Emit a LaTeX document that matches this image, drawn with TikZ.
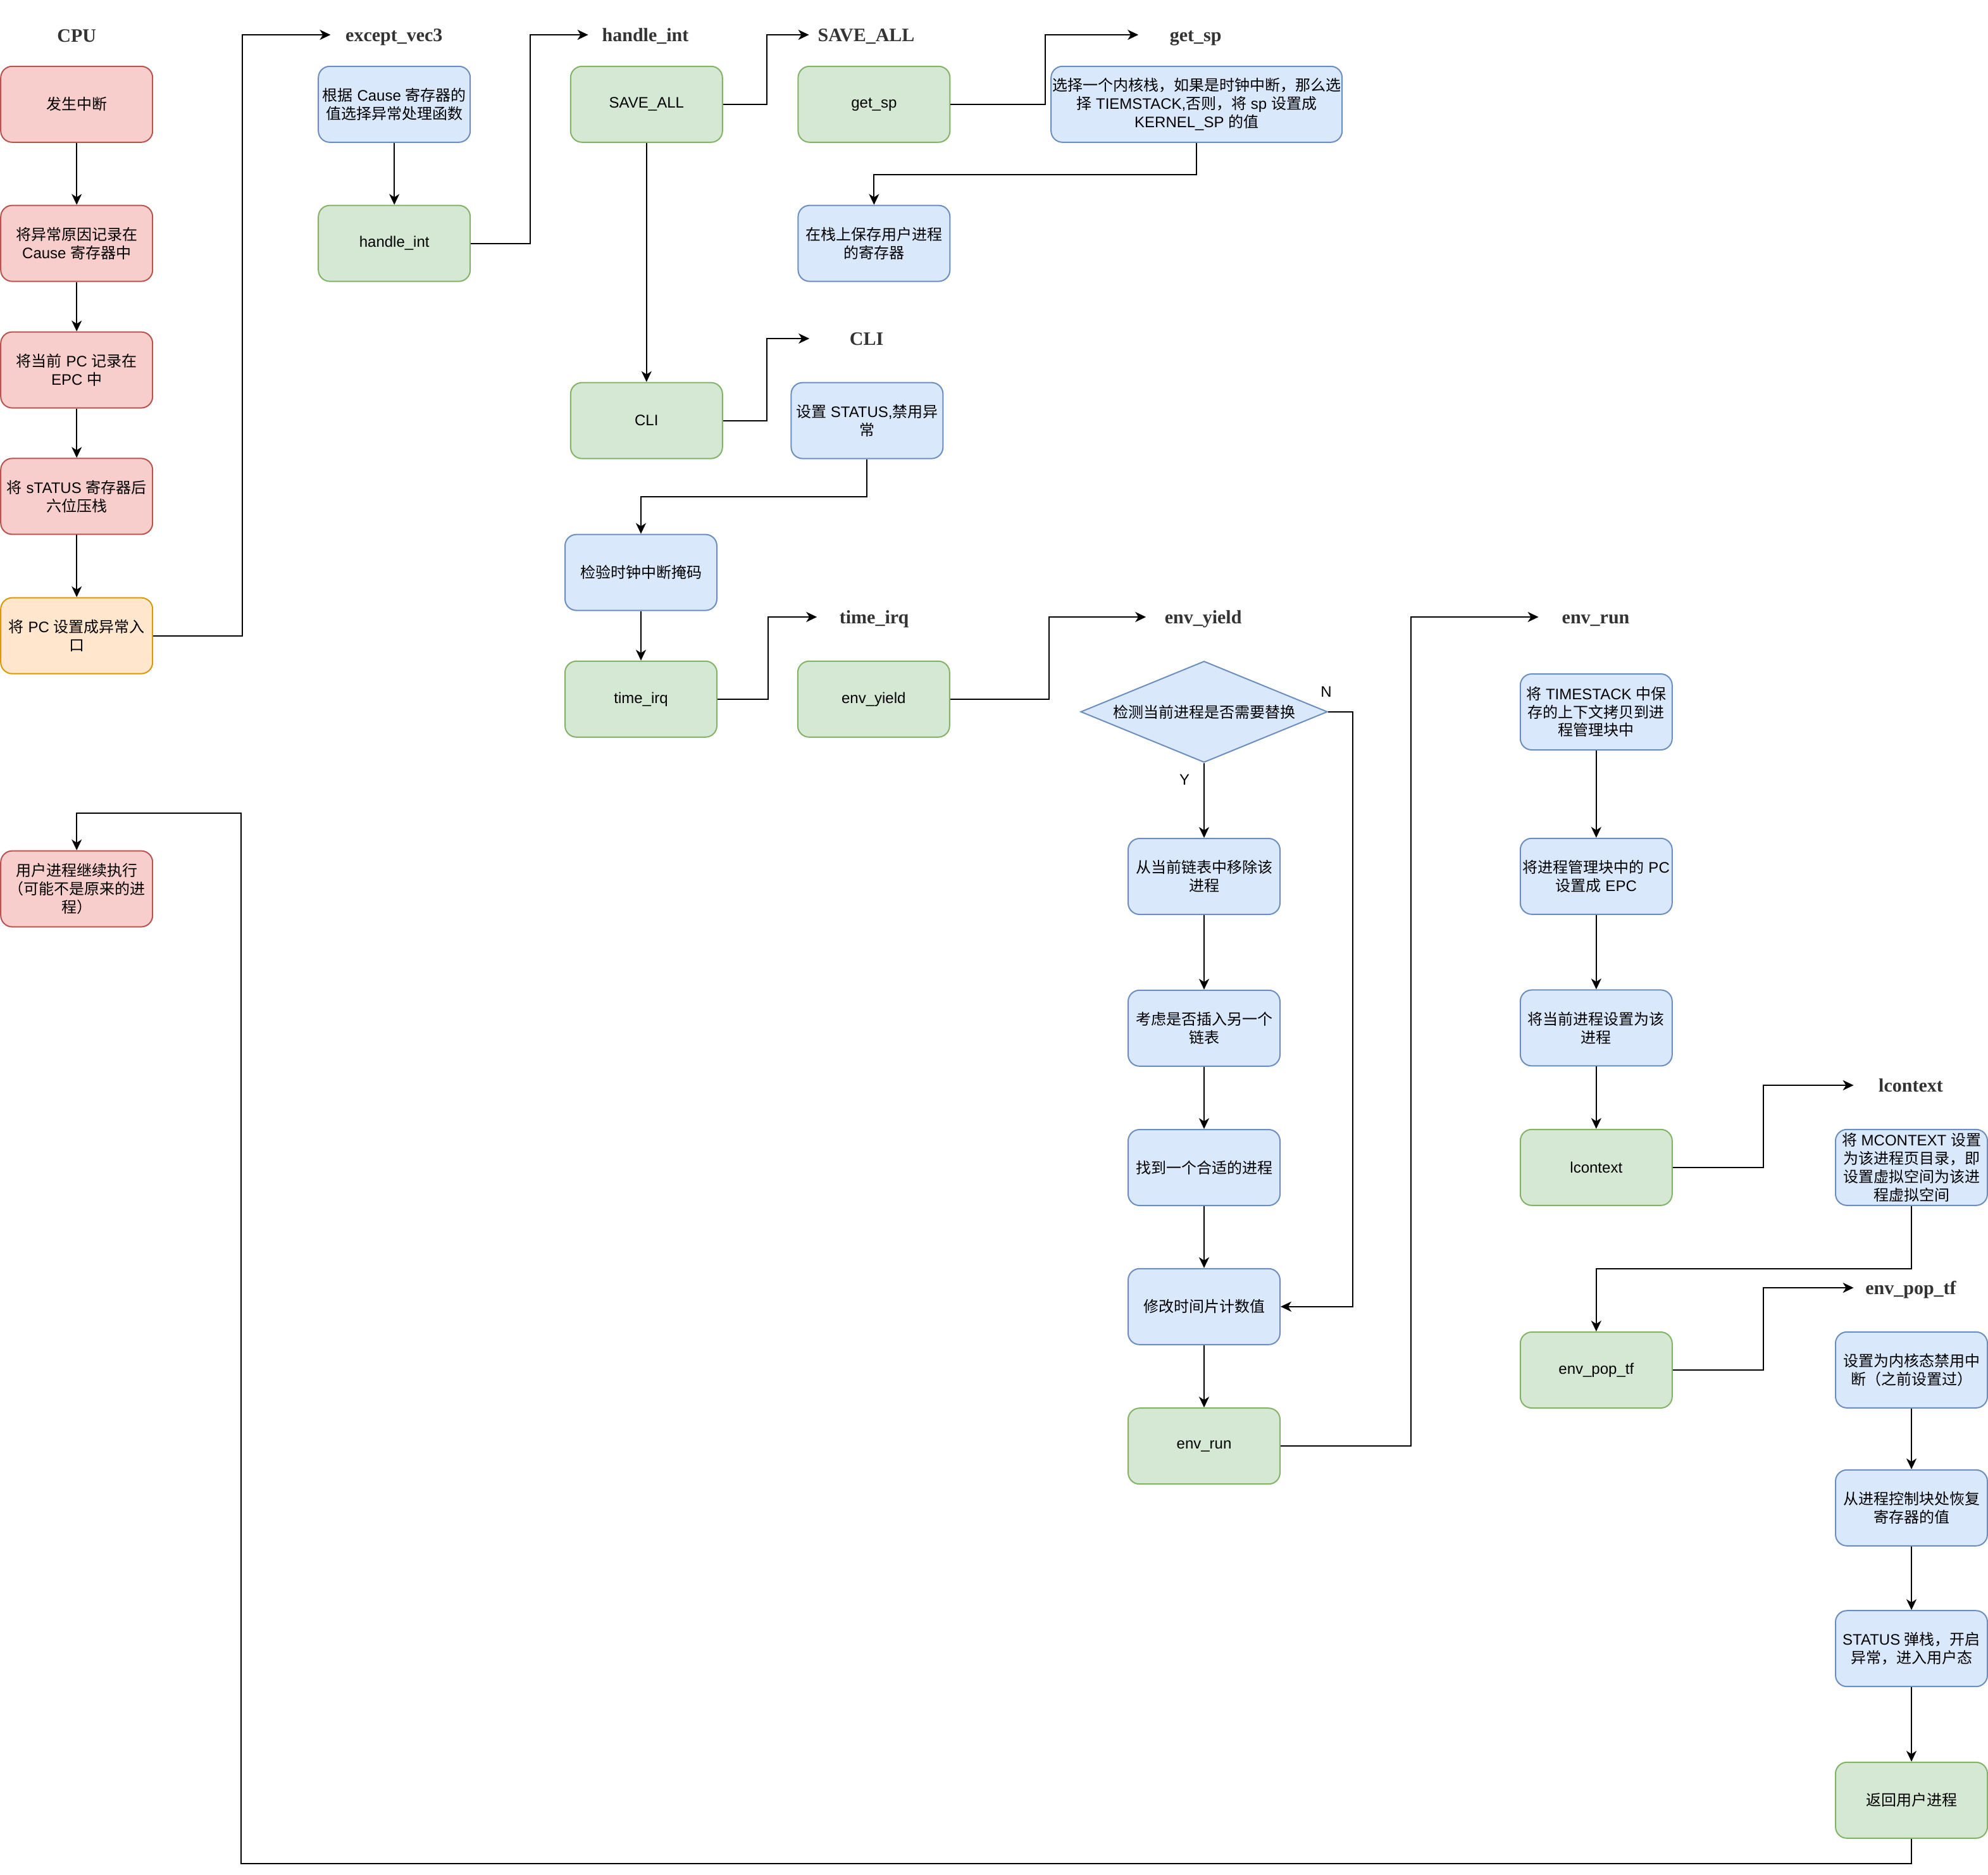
\documentclass[tikz,border=0pt]{standalone}
\usepackage{fontspec}
\setmainfont{Liberation Sans}
\newfontfamily\zh{Noto Sans CJK SC}
\newfontfamily\ttlfont{Liberation Serif}
\usetikzlibrary{arrows.meta,shapes.geometric}
\newcommand\zw[1]{{\zh #1}}
\definecolor{rfill}{HTML}{F8CECC}\definecolor{rline}{HTML}{B85450}
\definecolor{bfill}{HTML}{DAE8FC}\definecolor{bline}{HTML}{6C8EBF}
\definecolor{gfill}{HTML}{D5E8D4}\definecolor{gline}{HTML}{82B366}
\definecolor{ofill}{HTML}{FFE6CC}\definecolor{oline}{HTML}{D79B00}
\definecolor{ttlgray}{HTML}{333333}
\begin{document}
\begin{tikzpicture}[x=1pt,y=-1pt,
  box/.style={rectangle, rounded corners=9pt, minimum width=120pt, minimum height=60pt,
    inner xsep=1pt, inner ysep=0pt, align=center, line width=1pt,
    font=\fontsize{12}{14.4}\selectfont},
  rbox/.style={box, fill=rfill, draw=rline},
  bbox/.style={box, fill=bfill, draw=bline},
  gbox/.style={box, fill=gfill, draw=gline},
  obox/.style={box, fill=ofill, draw=oline},
  ttl/.style={font=\ttlfont\bfseries\fontsize{15}{18}\selectfont, text=ttlgray,
    minimum width=90pt, inner sep=0pt, text height=10pt, text depth=0pt},
  lbl/.style={font=\fontsize{12}{14.4}\selectfont, inner sep=0pt},
  arr/.style={line width=1pt, -{Stealth[length=8.5pt,width=8pt,inset=2.5pt]}}]
\useasboundingbox (0,0) rectangle (1571,1481);

% titles
\node[ttl] (tcpu) at (60.6,28) {CPU};
\node[ttl, minimum width=100pt] (texc) at (311.4,27.5) {except\_vec3};
\node[ttl] (thand) at (510,27.5) {handle\_int};
\node[ttl] (tsave) at (684.5,27.5) {SAVE\_ALL};
\node[ttl] (tget) at (944.8,27.5) {get\_sp};
\node[ttl] (tcli) at (684.8,267.5) {CLI};
\node[ttl] (tirqT) at (690.8,487.5) {time\_irq};
\node[ttl] (tyld) at (950.8,487.5) {env\_yield};
\node[ttl] (trun) at (1261,487.5) {env\_run};
\node[ttl] (tlc) at (1510,857.5) {lcontext};
\node[ttl] (tpop) at (1510,1017.5) {env\_pop\_tf};

% CPU column
\node[rbox] (b1) at (60.6,82.4) {\zw{发生中断}};
\node[rbox] (b2) at (60.6,192.3) {\zw{将异常原因记录在}\\Cause \zw{寄存器中}};
\node[rbox] (b3) at (60.6,292.3) {\zw{将当前} PC \zw{记录在}\\EPC \zw{中}};
\node[rbox] (b4) at (60.6,392.2) {\zw{将} sTATUS \zw{寄存器后}\\\zw{六位压栈}};
\node[obox] (b5) at (60.6,502.3) {\zw{将} PC \zw{设置成异常入}\\\zw{口}};
\node[rbox] (b6) at (60.6,702.3) {\zw{用户进程继续执行}\\\zw{（可能不是原来的进}\\\zw{程）}};

% except_vec3
\node[bbox] (c1) at (311.6,82.4) {\zw{根据} Cause \zw{寄存器的}\\\zw{值选择异常处理函数}};
\node[gbox] (c2) at (311.6,192.3) {handle\_int};

% handle_int
\node[gbox] (d1) at (510.9,82.4) {SAVE\_ALL};
\node[gbox] (d2) at (510.9,332.3) {CLI};

% SAVE_ALL
\node[gbox] (e1) at (690.7,82.4) {get\_sp};
\node[bbox] (e2) at (690.7,192.3) {\zw{在栈上保存用户进程}\\\zw{的寄存器}};

% get_sp
\node[bbox, minimum width=230pt, inner xsep=0pt] (big) at (945.6,82.4)
  {\zw{选择一个内核栈，如果是时钟中断，那么选}\\\zw{择} TIEMSTACK,\zw{否则，将} sp \zw{设置成}\\KERNEL\_SP \zw{的值}};

% CLI
\node[bbox] (st) at (685.2,332.3) {\zw{设置} STATUS,\zw{禁用异}\\\zw{常}};
\node[bbox] (jian) at (506.5,452.3) {\zw{检验时钟中断掩码}};
\node[gbox] (tirq) at (506.5,552.4) {time\_irq};

% time_irq
\node[gbox] (yield) at (690.4,552.4) {env\_yield};

% env_yield
\node[diamond, fill=bfill, draw=bline, line width=1pt, minimum width=195pt, minimum height=80pt,
  inner sep=0pt, shape aspect=2.4375, font=\fontsize{12}{14.4}\selectfont] (dia) at (951.5,562.4)
  {\zw{检测当前进程是否需要替换}};
\node[bbox] (m1) at (951.5,692.5) {\zw{从当前链表中移除该}\\\zw{进程}};
\node[bbox] (m2) at (951.5,812.4) {\zw{考虑是否插入另一个}\\\zw{链表}};
\node[bbox] (m3) at (951.5,922.5) {\zw{找到一个合适的进程}};
\node[bbox] (m4) at (951.5,1032.4) {\zw{修改时间片计数值}};
\node[gbox] (m5) at (951.5,1142.6) {env\_run};
\node[lbl] (nlab) at (1048,546.7) {N};
\node[lbl] (ylab) at (936,616) {Y};

% env_run
\node[bbox] (r1) at (1261.4,562.5) {\zw{将} TIMESTACK \zw{中保}\\\zw{存的上下文拷贝到进}\\\zw{程管理块中}};
\node[bbox] (r2) at (1261.4,692.4) {\zw{将进程管理块中的} PC\\\zw{设置成} EPC};
\node[bbox] (r3) at (1261.4,812.2) {\zw{将当前进程设置为该}\\\zw{进程}};
\node[gbox] (r4) at (1261.4,922.4) {lcontext};
\node[gbox] (pop) at (1261.4,1082.5) {env\_pop\_tf};

% lcontext / env_pop_tf
\node[bbox] (mc) at (1510.5,922.4) {\zw{将} MCONTEXT \zw{设置}\\\zw{为该进程页目录，即}\\\zw{设置虚拟空间为该进}\\\zw{程虚拟空间}};
\node[bbox] (k1) at (1510.5,1082.4) {\zw{设置为内核态禁用中}\\\zw{断（之前设置过）}};
\node[bbox] (k2) at (1510.5,1191.4) {\zw{从进程控制块处恢复}\\\zw{寄存器的值}};
\node[bbox] (k3) at (1510.5,1302.6) {STATUS \zw{弹栈，开启}\\\zw{异常，进入用户态}};
\node[gbox] (k4) at (1510.5,1422.4) {\zw{返回用户进程}};

\coordinate (ret) at (190.3,642.6);

% connectors
\draw[arr] (b1) -- (b2);
\draw[arr] (b2) -- (b3);
\draw[arr] (b3) -- (b4);
\draw[arr] (b4) -- (b5);
\draw[arr] (b5.east) -- ++(70.6,0) |- (texc.west);
\draw[arr] (c1) -- (c2);
\draw[arr] (c2.east) -- ++(47,0) |- (thand.west);
\draw[arr] (d1) -- (d2);
\draw[arr] (d1.east) -- ++(34.6,0) |- (tsave.west);
\draw[arr] (e1.east) -- ++(74.7,0) |- (tget.west);
\draw[arr] (big.south) -- ++(0,24.9) -| (e2.north);
\draw[arr] (d2.east) -- ++(34.5,0) |- (tcli.west);
\draw[arr] (st.south) -- ++(0,29.9) -| (jian.north);
\draw[arr] (jian) -- (tirq);
\draw[arr] (tirq.east) -- ++(40,0) |- (tirqT.west);
\draw[arr] (yield.east) -- ++(78.2,0) |- (tyld.west);
\draw[arr] (dia.south) -- (m1.north);
\draw[arr] (dia.east) -- ++(19.3,0) |- (m4.east);
\draw[arr] (m1) -- (m2);
\draw[arr] (m2) -- (m3);
\draw[arr] (m3) -- (m4);
\draw[arr] (m4) -- (m5);
\draw[arr] (m5.east) -- ++(103,0) |- (trun.west);
\draw[arr] (r1) -- (r2);
\draw[arr] (r2) -- (r3);
\draw[arr] (r3) -- (r4);
\draw[arr] (r4.east) -- ++(71.6,0) |- (tlc.west);
\draw[arr] (mc.south) -- ++(0,49.5) -| (pop.north);
\draw[arr] (pop.east) -- ++(71.6,0) |- (tpop.west);
\draw[arr] (k1) -- (k2);
\draw[arr] (k2) -- (k3);
\draw[arr] (k3) -- (k4);
\draw[arr] (k4.south) -- ++(0,19.6) -| (ret) -| (b6.north);
\end{tikzpicture}
\end{document}
